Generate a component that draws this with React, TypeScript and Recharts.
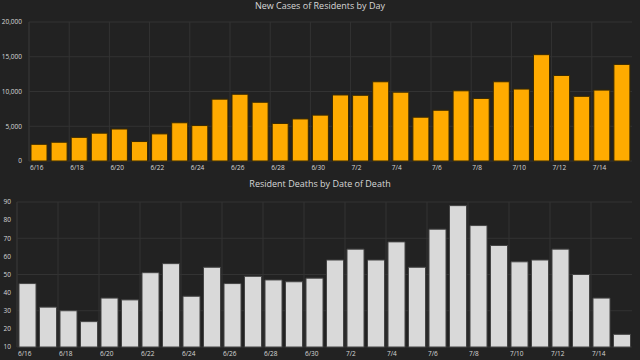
import React from 'react';
import { BarChart, Bar, XAxis, YAxis, CartesianGrid } from 'recharts';

const days = [
  '6/16', '6/17', '6/18', '6/19', '6/20', '6/21', '6/22', '6/23', '6/24', '6/25',
  '6/26', '6/27', '6/28', '6/29', '6/30', '7/1', '7/2', '7/3', '7/4', '7/5',
  '7/6', '7/7', '7/8', '7/9', '7/10', '7/11', '7/12', '7/13', '7/14', '7/15',
];

const newCases = [
  2400, 2700, 3400, 4000, 4600, 2800, 3900, 5500, 5100, 8900,
  9600, 8450, 5400, 6050, 6600, 9500, 9450, 11400, 9900, 6300,
  7300, 10100, 9000, 11400, 10350, 15300, 12300, 9300, 10200, 13900,
];

const deaths = [
  45, 32, 30, 24, 37, 36, 51, 56, 38, 54,
  45, 49, 47, 46, 48, 58, 64, 58, 68, 54,
  75, 88, 77, 66, 57, 58, 64, 50, 37, 17,
];

const caseTicks = [0, 5000, 10000, 15000, 20000];
const deathTicks = [10, 20, 30, 40, 50, 60, 70, 80, 90];

const casesData = days.map((d, i) => ({ day: d, value: newCases[i] }));
const deathsData = days.map((d, i) => ({ day: d, value: deaths[i] }));

const FONT = '"Open Sans", "DejaVu Sans", sans-serif';
const BG = '#222222';
const GRID = '#333333';
const LABEL = '#d8d8d8';

// label + faint gridline sit on the left edge of the band, not its centre
const DayTick = ({ x, y, payload, plotHeight }: any) => {
  const half = payload && payload.offset ? payload.offset : 10;
  const left = x - half;
  return (
    <g>
      <line x1={left} x2={left} y1={y - plotHeight} y2={y} stroke={GRID} strokeWidth={1} />
      <text x={left + 1} y={y + 9} fill={LABEL} fontSize={6.5} fontFamily={FONT} textAnchor="start">
        {payload.value}
      </text>
    </g>
  );
};

const Title = ({ top, children }: { top: number; children: React.ReactNode }) => (
  <div
    style={{
      position: 'absolute',
      top,
      left: 0,
      width: 640,
      textAlign: 'center',
      color: LABEL,
      fontSize: 9,
      fontFamily: FONT,
      lineHeight: '11px',
      zIndex: 1,
    }}
  >
    {children}
  </div>
);

export default function App() {
  return (
    <div style={{ position: 'absolute', left: 0, top: 0, width: 640, height: 360, background: BG, overflow: 'hidden' }}>
      <div style={{ position: 'absolute', left: 0, top: 0 }}>
        <BarChart width={640} height={180} data={casesData} margin={{ top: 22, right: 8, bottom: 0, left: 0 }} barCategoryGap={2}>
          <CartesianGrid vertical={false} stroke={GRID} />
          <XAxis
            dataKey="day"
            interval={1}
            height={19}
            tickSize={0}
            tickMargin={0}
            tickLine={false}
            axisLine={false}
            tick={<DayTick plotHeight={139} />}
          />
          <YAxis
            width={29}
            domain={[0, 20000]}
            ticks={caseTicks}
            tickFormatter={(v: number) => v.toLocaleString('en-US')}
            tick={{ fill: LABEL, fontSize: 6.5, fontFamily: FONT }}
            tickSize={0}
            tickLine={false}
            axisLine={{ stroke: GRID }}
            tickMargin={7}
          />
          <Bar dataKey="value" fill="#ffab00" stroke="#3a2a00" strokeWidth={1} isAnimationActive={false} />
        </BarChart>
      </div>
      <Title top={0}>New Cases of Residents by Day</Title>
      <div style={{ position: 'absolute', left: 0, top: 180 }}>
        <BarChart width={640} height={180} data={deathsData} margin={{ top: 22, right: 8, bottom: 0, left: 0 }} barCategoryGap={2}>
          <CartesianGrid vertical={false} stroke={GRID} />
          <XAxis
            dataKey="day"
            interval={1}
            height={13}
            tickSize={0}
            tickMargin={0}
            tickLine={false}
            axisLine={false}
            tick={<DayTick plotHeight={145} />}
          />
          <YAxis
            width={17}
            domain={[10, 90]}
            ticks={deathTicks}
            tick={{ fill: LABEL, fontSize: 6.5, fontFamily: FONT }}
            tickSize={0}
            tickLine={false}
            axisLine={{ stroke: GRID }}
            tickMargin={6}
          />
          <Bar dataKey="value" fill="#d9d9d9" stroke="#444444" strokeWidth={1} isAnimationActive={false} />
        </BarChart>
      </div>
      <Title top={178}>Resident Deaths by Date of Death</Title>
    </div>
  );
}
